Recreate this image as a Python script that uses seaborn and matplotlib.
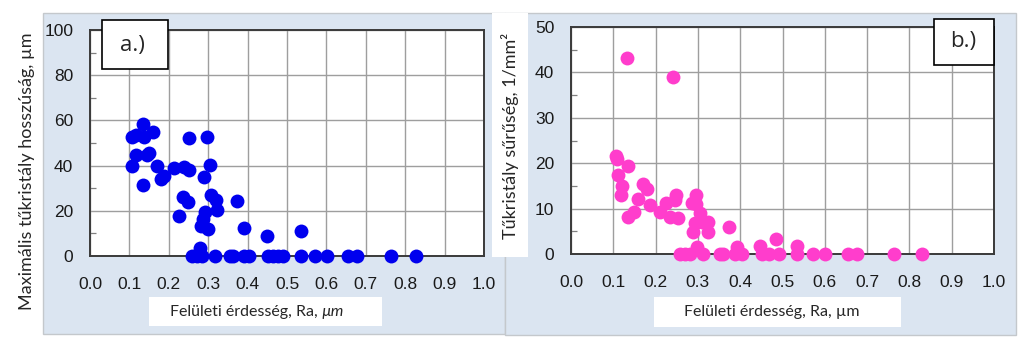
import matplotlib
matplotlib.use("Agg")
import matplotlib.pyplot as plt
from matplotlib.patches import Rectangle
from matplotlib.ticker import MultipleLocator
import seaborn as sns
import pandas as pd

# --- Panel a: maximum whisker length vs. surface roughness ---
ra_a = [0.107, 0.116, 0.135, 0.137, 0.161, 0.107, 0.118, 0.144, 0.150, 0.135,
        0.169, 0.179, 0.189, 0.212, 0.239, 0.251, 0.251, 0.296, 0.305, 0.290,
        0.227, 0.235, 0.249, 0.307, 0.321, 0.323, 0.292, 0.288, 0.282, 0.299,
        0.374, 0.392, 0.448, 0.535, 0.279,
        0.258, 0.271, 0.283, 0.317, 0.355, 0.364, 0.392, 0.404, 0.453, 0.465,
        0.478, 0.491, 0.536, 0.571, 0.601, 0.656, 0.677, 0.763, 0.827]
length_a = [52.7, 53.5, 58.6, 52.7, 55.0, 39.9, 44.6, 44.6, 45.6, 31.3,
            39.9, 34.0, 35.5, 39.0, 39.4, 38.0, 52.4, 52.7, 40.2, 35.0,
            17.6, 26.0, 24.0, 26.9, 25.0, 20.2, 19.5, 16.5, 13.3, 11.8,
            24.4, 12.6, 8.9, 11.1, 3.7,
            0, 0, 0, 0, 0, 0, 0, 0, 0, 0,
            0, 0, 0, 0, 0, 0, 0, 0, 0]

# --- Panel b: whisker density vs. surface roughness ---
ra_b = [0.133, 0.241, 0.107, 0.109, 0.134, 0.112, 0.120, 0.118, 0.134, 0.148,
        0.159, 0.171, 0.179, 0.187, 0.211, 0.225, 0.234, 0.246, 0.249, 0.254,
        0.286, 0.295, 0.295, 0.304, 0.292, 0.288, 0.309, 0.323, 0.324, 0.299,
        0.374, 0.392, 0.447, 0.485, 0.534,
        0.258, 0.270, 0.282, 0.313, 0.352, 0.360, 0.388, 0.404, 0.451, 0.467,
        0.491, 0.534, 0.572, 0.600, 0.655, 0.676, 0.763, 0.829]
density_b = [43.2, 38.9, 21.5, 20.9, 19.3, 17.4, 14.9, 13.0, 8.1, 9.3,
             12.1, 15.4, 14.3, 10.8, 9.2, 11.2, 8.1, 11.9, 12.9, 7.9,
             11.2, 13.0, 11.0, 9.0, 6.8, 4.9, 7.1, 7.1, 4.9, 1.5,
             5.9, 1.6, 1.8, 3.3, 1.8,
             0, 0, 0, 0, 0, 0, 0, 0, 0, 0,
             0, 0, 0, 0, 0, 0, 0, 0]

x_ticks = [0.0, 0.1, 0.2, 0.3, 0.4, 0.5, 0.6, 0.7, 0.8, 0.9, 1.0]
x_ticklabels = [f"{t:.1f}" for t in x_ticks]

W, H = 1024, 346
PANEL_BG = "#dbe5f1"
LABEL_FONT = ["Lato", "DejaVu Sans"]
TAG_FONT = ["Open Sans", "DejaVu Sans"]
TICK_FONT = ["Liberation Sans", "DejaVu Sans"]

sns.set_style("white")
# tick numbers use an Arial-like face; titles name their own family
plt.rcParams["font.family"] = TICK_FONT

fig = plt.figure(figsize=(W / 100, H / 100), dpi=100)
fig.patch.set_facecolor("white")


def fx(x):
    return x / W


def fy(y):
    return 1 - y / H


def box(x0, y0, x1, y1, face, edge="none", lw=0.0, z=-1):
    r = Rectangle((fx(x0), fy(y1)), fx(x1) - fx(x0), fy(y0) - fy(y1),
                  transform=fig.transFigure, facecolor=face, edgecolor=edge,
                  linewidth=lw, zorder=z)
    fig.add_artist(r)
    return r


# chart-area backgrounds
box(43, 13, 505, 334, PANEL_BG, edge="#c4c8cc", lw=1.0, z=-2)
box(505, 13, 1016, 335, PANEL_BG, edge="#c4c8cc", lw=1.0, z=-2)
# white strip behind the right-hand y label
box(492, 13, 528, 257, "white", z=-1)


def make_axes(rect_px, x, y, color, ymax, ymajor, yminor):
    x0, y0, x1, y1 = rect_px
    ax = fig.add_axes([fx(x0), fy(y1), fx(x1) - fx(x0), fy(y0) - fy(y1)])
    ax.set_facecolor("white")
    df = pd.DataFrame({"Ra": x, "v": y})
    sns.scatterplot(data=df, x="Ra", y="v", ax=ax, color=color, s=100,
                    linewidth=0, zorder=3, clip_on=False)
    ax.set_xlim(0, 1)
    ax.set_ylim(0, ymax)
    ax.set_xticks(x_ticks)
    ax.set_xticklabels(x_ticklabels)
    ax.yaxis.set_major_locator(MultipleLocator(ymajor))
    ax.yaxis.set_minor_locator(MultipleLocator(yminor))
    ax.grid(True, which="major", color="#9e9e9e", linewidth=1.0, zorder=0)
    ax.set_axisbelow(True)
    ax.set_xlabel("")
    ax.set_ylabel("")
    for s in ax.spines.values():
        s.set_color("#3a3a3a")
        s.set_linewidth(1.4)
    ax.tick_params(axis="both", which="major", length=0,
                   labelsize=12.5, labelcolor="#1a1a1a")
    ax.tick_params(axis="x", which="major", pad=15)
    ax.tick_params(axis="y", which="major", pad=12)
    ax.tick_params(axis="y", which="minor", direction="in", length=4,
                   width=0.9, color="#808080", left=True)
    return ax


ax_a = make_axes((90, 30, 484, 256), ra_a, length_a, "#0000ee", 100, 20, 10)
ax_b = make_axes((571, 27, 994, 254), ra_b, density_b, "#ff3dcc", 50, 10, 5)

# panel tags
box(102, 20, 168, 69, "white", edge="black", lw=1.2, z=5)
fig.text(fx(132), fy(45), "a.)", fontsize=16, ha="center", va="center",
         zorder=6, family=TAG_FONT)
box(934, 19, 994, 65, "white", edge="black", lw=1.2, z=5)
fig.text(fx(963), fy(42), "b.)", fontsize=16, ha="center", va="center",
         zorder=6, family=TAG_FONT)

# y-axis titles
fig.text(fx(27), fy(171), "Maximális tűkristály hosszúság, µm", rotation=90,
         fontsize=13, ha="center", va="center", family=LABEL_FONT)
fig.text(fx(510), fy(136), "Tűkristály sűrűség, 1/mm²", rotation=90,
         fontsize=13, ha="center", va="center", family=LABEL_FONT)

# x-axis titles in white boxes
box(149, 297, 382, 326, "white", z=1)
box(654, 297, 901, 327, "white", z=1)

fig.canvas.draw()
renderer = fig.canvas.get_renderer()

t1 = fig.text(fx(170), fy(312), "Felületi érdesség, Ra, ", fontsize=11.5,
              ha="left", va="center", zorder=2, family=LABEL_FONT)
ext = t1.get_window_extent(renderer)
fig.text(ext.x1 / W, fy(312), "µm", fontsize=11.5, style="italic",
         ha="left", va="center", zorder=2, family=LABEL_FONT)

fig.text(fx(772), fy(312), "Felületi érdesség, Ra, µm", fontsize=11.5,
         ha="center", va="center", zorder=2, family=LABEL_FONT)

fig.savefig("out.png", dpi=100, facecolor="white")
